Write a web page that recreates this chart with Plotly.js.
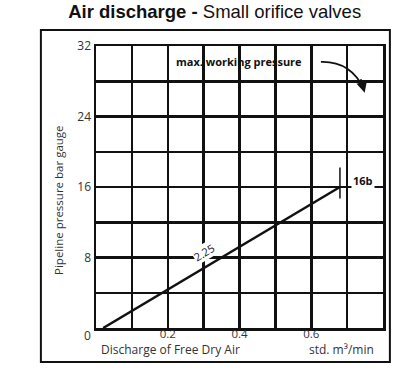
<!DOCTYPE html>
<html>
<head>
<meta charset="utf-8">
<script src="https://cdn.plot.ly/plotly-3.0.1.min.js"></script>
<style>html,body{margin:0;padding:0;background:#fff;}#chart{width:405px;height:375px;}</style>
</head>
<body>
<div id="chart"></div>
<script>
// Data
const flowValues = [0.02, 0.68];       // std. m3/min
const pressureValues = [0, 16];        // bar gauge
const lineLabel = "2.25";
const endLabel = "16b";
const xTickVals = [0, 0.1, 0.2, 0.3, 0.4, 0.5, 0.6, 0.7, 0.8];
const xTickText = ["", "", "0.2", "", "0.4", "", "0.6", "", ""];
const yTickVals = [0, 4, 8, 12, 16, 20, 24, 28, 32];
const yTickText = ["", "", "8", "", "16", "", "24", "", "32"];
const maxPressure = 16;

const labelFont = "Open Sans, Noto Sans, sans-serif";

const trace = {
  x: flowValues, y: pressureValues, mode: "lines", type: "scatter",
  line: {color: "#111", width: 2.5}, hoverinfo: "skip", cliponaxis: false
};

const C = {xanchor: "center", yanchor: "middle", showarrow: false};

const layout = {
  width: 405, height: 375,
  margin: {l: 96, r: 22, t: 46, b: 47},
  paper_bgcolor: "#fff", plot_bgcolor: "#fff",
  showlegend: false,
  title: {
    text: "<b>Air discharge -</b> Small orifice valves",
    font: {family: "Liberation Sans, Arial, sans-serif", size: 18.5, color: "#111"},
    x: 0.53, xanchor: "center", y: 0.968, yanchor: "middle", yref: "container"
  },
  xaxis: {
    range: [0, 0.8], tickvals: xTickVals, ticktext: xTickText, ticks: "",
    showgrid: true, gridcolor: "#111", gridwidth: 2.5, zeroline: false,
    showline: true, linecolor: "#111", linewidth: 2.5, mirror: true,
    tickfont: {family: labelFont, size: 11.5, color: "#333"}, fixedrange: true,
    ticklabelstandoff: -6
  },
  yaxis: {
    range: [0, 32], tickvals: yTickVals, ticktext: yTickText, ticks: "",
    showgrid: true, gridcolor: "#111", gridwidth: 2.5, zeroline: false,
    showline: true, linecolor: "#111", linewidth: 2.5, mirror: true,
    tickfont: {family: labelFont, size: 12, color: "#333"}, fixedrange: true,
    ticklabelstandoff: 0
  },
  shapes: [
    {type: "rect", xref: "paper", yref: "paper", x0: -0.192, x1: 1.024, y0: -0.121, y1: 1.057,
     line: {color: "#111", width: 2}},
    {type: "line", xref: "x", yref: "y", x0: flowValues[1], x1: flowValues[1], y0: maxPressure - 1.3, y1: maxPressure + 2.2,
     line: {color: "#111", width: 1.5}},
    {type: "path", xref: "x", yref: "y", path: "M 0.627 30.2 Q 0.71 30.3 0.747 27.1",
     line: {color: "#111", width: 1.8}}
  ],
  annotations: [
    {x: 0.749, y: 26.7, ax: 0.737, ay: 28.4, axref: "x", ayref: "y", xref: "x", yref: "y",
     text: "", showarrow: true, arrowhead: 2, arrowsize: 1.2, arrowwidth: 1.8, arrowcolor: "#111"},
    Object.assign({x: 0.398, y: 30.2, xref: "x", yref: "y", text: "<b>max. working pressure</b>",
     font: {family: labelFont, size: 11, color: "#111"}}, C),
    Object.assign({x: 0.745, y: 16.75, xref: "x", yref: "y", text: "<b>" + endLabel + "</b>",
     font: {family: labelFont, size: 11, color: "#111"}, bgcolor: "#fff"}, C),
    Object.assign({x: 0.3, y: 8.6, xref: "x", yref: "y", text: lineLabel, textangle: -31,
     font: {family: labelFont, size: 11, color: "#111"}, bgcolor: "#fff", borderpad: 0}, C),
    Object.assign({x: -0.028, y: -0.025, xref: "paper", yref: "paper", text: "0",
     font: {family: labelFont, size: 12, color: "#333"}}, C),
    Object.assign({x: 0.261, y: -0.076, xref: "paper", yref: "paper", text: "Discharge of Free Dry Air",
     font: {family: labelFont, size: 12, color: "#333"}}, C),
    Object.assign({x: 0.854, y: -0.076, xref: "paper", yref: "paper", text: "std. m³/min",
     font: {family: labelFont, size: 12, color: "#333"}}, C),
    Object.assign({x: -0.129, y: 0.454, xref: "paper", yref: "paper", text: "Pipeline pressure bar gauge",
     textangle: -90, font: {family: labelFont, size: 11.5, color: "#333"}}, C)
  ]
};

Plotly.newPlot("chart", [trace], layout, {displayModeBar: false, staticPlot: true});
</script>
</body>
</html>
